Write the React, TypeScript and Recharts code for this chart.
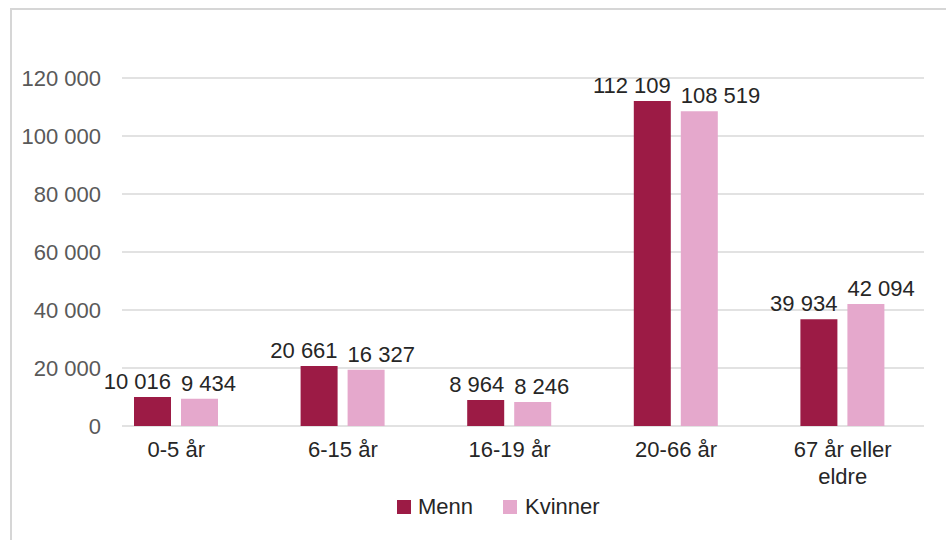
import React from 'react';
import { BarChart, Bar, XAxis, YAxis, CartesianGrid, Legend, LabelList } from 'recharts';

const categories = ['0-5 år', '6-15 år', '16-19 år', '20-66 år', '67 år eller eldre'];
// bar heights as drawn in the picture
const menBars = [10016, 20661, 8964, 112109, 36800];
const womenBars = [9434, 19400, 8246, 108519, 42094];
// data label values as printed
const menLabels = [10016, 20661, 8964, 112109, 39934];
const womenLabels = [9434, 16327, 8246, 108519, 42094];
const yTicks = [0, 20000, 40000, 60000, 80000, 100000, 120000];

const MEN_COLOR = '#9C1B45';
const WOMEN_COLOR = '#E5A8CC';
const FONT = '"Liberation Sans", Arial, sans-serif';

const data = categories.map((c, i) => ({
  name: c,
  menn: menBars[i],
  kvinner: womenBars[i],
  mennLabel: menLabels[i],
  kvinnerLabel: womenLabels[i],
}));

const fmt = (v: number) => String(v).replace(/\B(?=(\d{3})+(?!\d))/g, ' ');

const wrap = (s: string, max: number) => {
  const words = s.split(' ');
  const lines: string[] = [];
  let cur = '';
  for (const w of words) {
    const next = cur ? cur + ' ' + w : w;
    if (next.length > max && cur) {
      lines.push(cur);
      cur = w;
    } else cur = next;
  }
  if (cur) lines.push(cur);
  return lines;
};

const XTick = (props: any) => {
  const { x, y, payload } = props;
  const lines = wrap(String(payload.value), 11);
  return (
    <text x={x} y={y} textAnchor="middle" fill="#262626" fontSize={22} fontFamily={FONT}>
      {lines.map((l, i) => (
        <tspan key={i} x={x} dy={i === 0 ? 23 : 26.5}>{l}</tspan>
      ))}
    </text>
  );
};

const YTick = (props: any) => {
  const { y, payload } = props;
  return (
    <text x={101} y={y} dy={8} textAnchor="end" fill="#595959" fontSize={22} fontFamily={FONT}>
      {fmt(payload.value)}
    </text>
  );
};

const makeLabel = (side: 'end' | 'start') => (props: any) => {
  const { x, y, width, value } = props;
  const tx = side === 'end' ? x + width : x;
  return (
    <text x={tx} y={y - 8} textAnchor={side} fill="#262626" fontSize={22} fontFamily={FONT}>
      {fmt(value)}
    </text>
  );
};

const LegendContent = () => (
  <div style={{ display: 'flex', alignItems: 'center', fontFamily: FONT, fontSize: 22, color: '#262626' }}>
    <span style={{ width: 14, height: 14, background: MEN_COLOR, display: 'inline-block', marginRight: 7 }} />
    <span style={{ marginRight: 30 }}>Menn</span>
    <span style={{ width: 14, height: 14, background: WOMEN_COLOR, display: 'inline-block', marginRight: 8 }} />
    <span>Kvinner</span>
  </div>
);

export default function App() {
  return (
    <div style={{ position: 'absolute', left: 0, top: 0, width: 946, height: 540, overflow: 'hidden', background: '#fff' }}>
      <div
        style={{
          position: 'absolute',
          left: 10,
          top: 8,
          width: 1200,
          height: 1200,
          border: '2px solid #D6D6D6',
          boxSizing: 'border-box',
        }}
      />
      <BarChart
        width={946}
        height={540}
        data={data}
        margin={{ top: 78, right: 20, bottom: 0, left: 0 }}
        barSize={37}
        barGap={10}
        style={{ position: 'absolute', left: 0, top: 0 }}
      >
        <CartesianGrid vertical={false} stroke="#D9D9D9" strokeWidth={1.5} x={122} width={802} />
        <XAxis dataKey="name" axisLine={false} tickLine={false} tick={<XTick />} height={88} interval={0} />
        <YAxis
          width={93}
          domain={[0, 120000]}
          ticks={yTicks}
          axisLine={false}
          tickLine={false}
          tick={<YTick />}
          interval={0}
        />
        <Legend
          content={<LegendContent />}
          wrapperStyle={{ position: 'absolute', left: 397, top: 494, width: 300, height: 26 }}
        />
        <Bar dataKey="menn" name="Menn" fill={MEN_COLOR} isAnimationActive={false}>
          <LabelList dataKey="mennLabel" content={makeLabel('end')} />
        </Bar>
        <Bar dataKey="kvinner" name="Kvinner" fill={WOMEN_COLOR} isAnimationActive={false}>
          <LabelList dataKey="kvinnerLabel" content={makeLabel('start')} />
        </Bar>
      </BarChart>
    </div>
  );
}
